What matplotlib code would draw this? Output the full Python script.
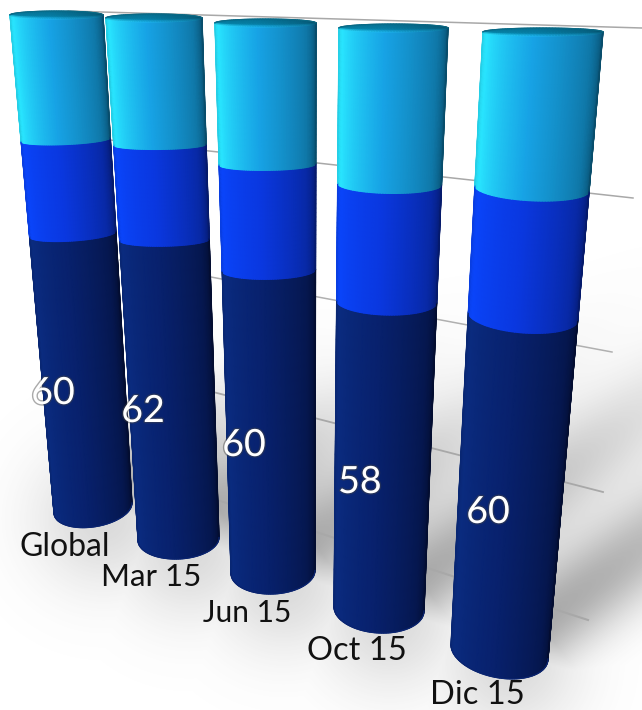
import numpy as np
import matplotlib
matplotlib.use("Agg")
import matplotlib.pyplot as plt
import matplotlib.patheffects as pe

plt.rcParams["font.family"] = ["Lato", "DejaVu Sans"]

categories = ["Global", "Mar 15", "Jun 15", "Oct 15", "Dic 15"]
low = [60, 62, 60, 58, 60]
mid = [18, 17, 18, 19, 19]
high = [22, 21, 22, 23, 21]

# where each cylinder lands on the page (perspective), pixels
top_l = [10, 106, 215, 339, 483]
top_r = [103, 202, 316, 448, 603]
top_y = [15, 18, 23, 28, 32]
bot_l = [54, 138, 231, 334, 451]
bot_r = [132, 219, 315, 424, 548]
bot_y = [508, 539, 572, 609, 652]
bot_tilt = [-10, -3, -3, 4, 14]
bot_sag = [19, 20, 22, 24, 26]
sag_pow = [2, 2.2, 1.6, 1, 0.7]
persp = [1.2, 1.21, 1.23, 1.23, 1.27]
shadow_len = [150, 190, 240, 330, 390]

W, H = 642, 710
fig = plt.figure(figsize=(W / 100, H / 100), dpi=100)
ax = fig.add_axes([0, 0, 1, 1])
ax.set_xlim(0, W)
ax.set_ylim(H, 0)
ax.axis("off")

# soft floor shadow
yy, xx = np.mgrid[0:H, 0:W]
dark = np.zeros((H, W))
foot_dark = np.zeros((H, W))
for i in range(5):
    fx, fy = (bot_l[i] + bot_r[i]) / 2, bot_y[i]
    dx, dy = 0.80, -0.60
    along = (xx - fx) * dx + (yy - fy) * dy
    across = -(xx - fx) * dy + (yy - fy) * dx
    a = np.clip(along, 0, None)
    fade = np.clip(a / 50, 0, 1) * np.exp(-(a / float(shadow_len[i])) ** 2)
    dark += np.exp(-(across / 46.0) ** 2) * fade * 0.52
    foot = np.exp(-((xx - fx - 10) ** 2 + (yy - fy - 10) ** 2) / (2 * 50.0 ** 2)) * 0.22
    foot_dark = np.maximum(foot_dark, foot)
img = np.ones((H, W, 4))
img[..., :3] = 0.35
img[..., 3] = np.clip(np.maximum(dark, foot_dark), 0, 0.55)
ax.imshow(img, extent=(0, W, H, 0), aspect="auto", zorder=0, interpolation="bilinear")

# grid lines
grid_lines = [
    ((68, 11), (642, 28), "#a8a8a8", 1.1),
    ((110, 140), (633, 198), "#a8a8a8", 1.1),
    ((120, 260), (612, 352), "#b0b0b0", 1.1),
    ((135, 372), (603, 492), "#a8a8a8", 1.3),
    ((140, 475), (588, 620), "#a8a8a8", 1.5),
]
for a, b, col, lw in grid_lines:
    ax.plot([a[0], b[0]], [a[1], b[1]], color=col, lw=lw, zorder=1)


def shade(s, left, centre, right):
    left, centre, right = map(np.array, (left, centre, right))
    out = np.zeros(s.shape + (3,))
    for c in range(3):
        out[..., c] = np.interp(s, [0, 0.12, 0.45, 0.8, 1],
                                [left[c] * 0.9, left[c], centre[c],
                                 (centre[c] + right[c]) / 2, right[c]])
    return np.clip(out, 0, 1)


light_col = ((0.16, 0.90, 1.0), (0.09, 0.64, 0.90), (0.03, 0.30, 0.42))
mid_col = ((0.04, 0.27, 0.98), (0.04, 0.22, 0.88), (0.02, 0.10, 0.42))
dark_col = ((0.04, 0.17, 0.50), (0.03, 0.13, 0.43), (0.01, 0.05, 0.19))
segment_cols = [dark_col, mid_col, light_col]


def frac(v, i):
    # value share to page share along the cylinder, foreshortened
    v = v / 100.0
    return v / (v + (1 - v) * persp[i])


def cyl_xy(i, t, s):
    # t 0 at top, 1 at foot; s 0..1 round the front
    hl = top_l[i] + (bot_l[i] - top_l[i]) * t
    hr = top_r[i] + (bot_r[i] - top_r[i]) * t
    cy = top_y[i] + (bot_y[i] - top_y[i]) * t
    sag = 4 + (bot_sag[i] - 4) * t ** sag_pow[i]
    c = -np.cos(np.pi * s)
    x = (hl + hr) / 2 + (hr - hl) / 2 * c
    y = cy + sag * np.sin(np.pi * s) + bot_tilt[i] * t ** 0.7 / 2 * c
    return x, y


s_nodes = np.linspace(0, 1, 61)
for i in range(5):
    z = 2 + i * 0.1
    levels = [0, low[i], low[i] + mid[i], low[i] + mid[i] + high[i]]
    for k in range(3):
        t0 = 1 - frac(levels[k + 1], i)
        t1 = 1 - frac(levels[k], i)
        tt = np.linspace(t0, t1, 25)
        T, S = np.meshgrid(tt, s_nodes, indexing="ij")
        X, Y = cyl_xy(i, T, S)
        C = np.repeat(shade(s_nodes, *segment_cols[k])[None, :, :], 25, axis=0)
        ax.pcolormesh(X, Y, C, shading="gouraud", zorder=z)
        # smooth the silhouette
        ax.plot(X[:, 0], Y[:, 0], color=C[0, 0], lw=0.9, zorder=z + 0.005)
        ax.plot(X[:, -1], Y[:, -1], color=C[0, -1], lw=0.9, zorder=z + 0.005)
        if k == 0:
            ax.plot(X[-1], Y[-1], color="#0a2470", lw=0.9, zorder=z + 0.005)

    # top cap
    xf, yf = cyl_xy(i, np.zeros_like(s_nodes), s_nodes)
    yb = 2 * top_y[i] - yf
    fr = np.array([0, 0.75, 1.0])[:, None]
    X = np.repeat(xf[None, :], 3, axis=0)
    Y = yb[None, :] + (yf - yb)[None, :] * fr
    C = np.stack([
        shade(s_nodes, (0.02, 0.42, 0.55), (0.02, 0.42, 0.55), (0.02, 0.26, 0.36)),
        shade(s_nodes, (0.03, 0.58, 0.72), (0.03, 0.52, 0.68), (0.02, 0.30, 0.40)),
        shade(s_nodes, (0.20, 0.90, 1.0), (0.12, 0.72, 0.95), (0.03, 0.34, 0.46)),
    ])
    ax.pcolormesh(X, Y, C, shading="gouraud", zorder=z + 0.01)
    ax.plot(X[0], Y[0], color="#0a6a85", lw=0.8, zorder=z + 0.015)

    # value label
    xl = [53, 143, 244, 360, 488][i]
    yl = [393, 411, 445, 482, 512][i]
    ax.text(xl, yl, str(low[i]), color="white", fontsize=27, ha="center", va="center",
            zorder=5, path_effects=[pe.withStroke(linewidth=2, foreground="#444444", alpha=0.45)])

label_x = [65, 151, 247, 357, 477]
label_y = [547, 577, 613, 651, 695]
label_size = [23, 22.5, 21.5, 23.5, 23.5]
for i, name in enumerate(categories):
    ax.text(label_x[i], label_y[i], name, color="#111111", fontsize=label_size[i],
            ha="center", va="center", zorder=6)

fig.savefig("out.png", dpi=100)
